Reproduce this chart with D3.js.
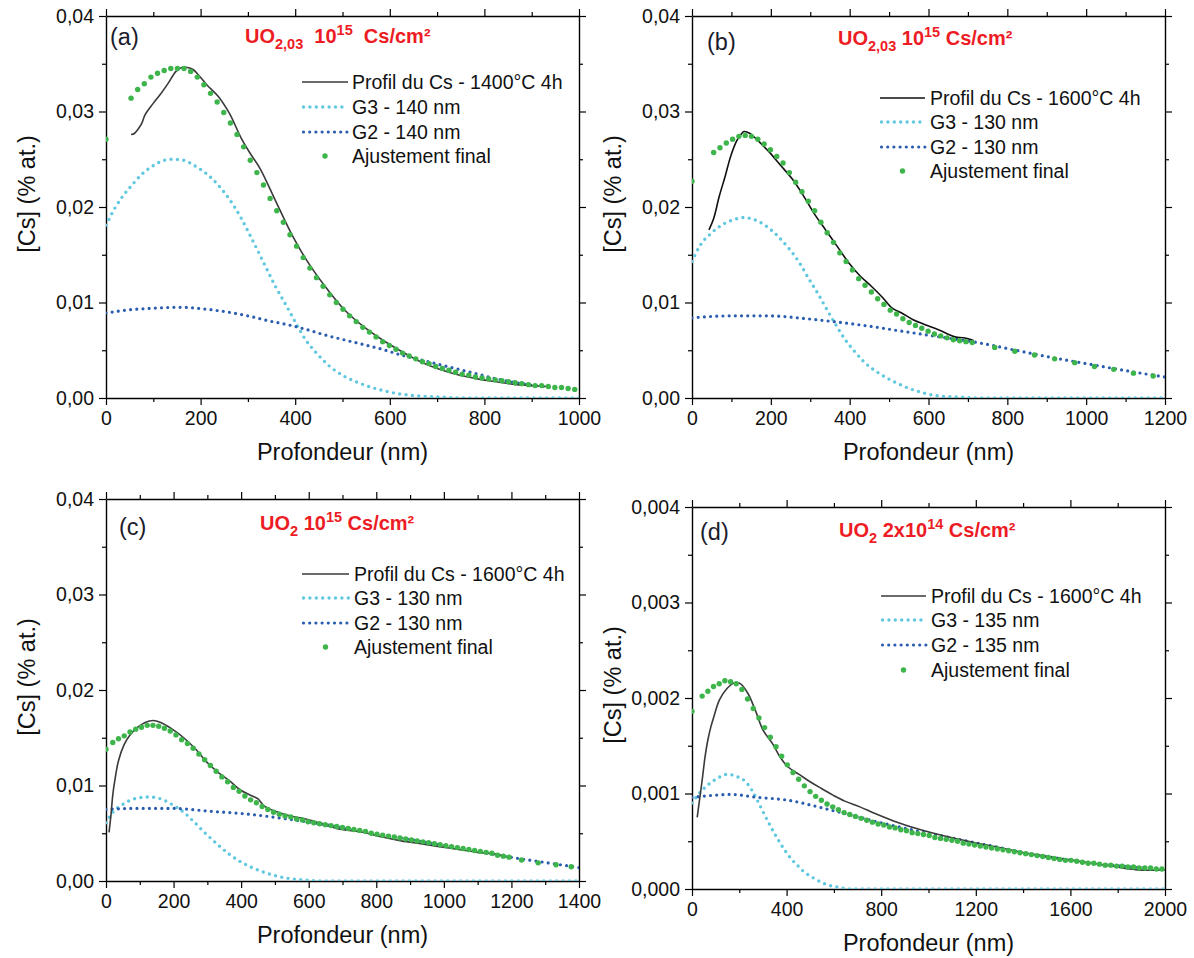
<!DOCTYPE html>
<html><head><meta charset="utf-8">
<script src="https://cdn.jsdelivr.net/npm/d3@7"></script>
<style>
body{margin:0;background:#fff}
svg{display:block}
text{font-family:"Liberation Sans",Arial,sans-serif}
</style>
</head><body>
<svg id="chart" width="1194" height="958"></svg>
<script>
// ===== DATA (depth in nm, [Cs] in % at.) =====
// Panel (a)
const a_profile = [[53,0.0276],[60,0.0277],[67,0.0281],[75,0.0287],[83,0.0297],[99,0.0308],[115,0.0318],[132,0.0330],[148,0.0342],[160,0.0346],[172,0.0346],[184,0.0344],[196,0.0338],[213,0.0328],[237,0.0316],[261,0.0298],[285,0.0273],[305,0.0256],[326,0.0240],[358,0.0207],[390,0.0174],[422,0.0146],[463,0.0117],[503,0.0093],[544,0.0075],[584,0.0061],[624,0.0049],[665,0.0038],[705,0.0030],[746,0.0024],[786,0.0020],[826,0.0017],[867,0.0014],[900,0.0013],[930,0.0012]];
const a_g3 = [[0,0.0181],[19,0.0199],[35,0.0211],[55,0.0223],[75,0.0234],[99,0.0243],[124,0.0249],[141,0.0250],[164,0.0249],[188,0.0243],[212,0.0235],[237,0.0223],[261,0.0208],[285,0.0189],[309,0.0166],[334,0.0141],[358,0.0117],[382,0.0096],[402,0.0078],[422,0.0061],[447,0.0046],[471,0.0034],[503,0.0023],[544,0.0014],[584,0.0008],[624,0.0004],[665,0.0002],[705,0.0001],[760,0],[1000,0]];
const a_g2 = [[0,0.0089],[43,0.0092],[99,0.0094],[156,0.0095],[212,0.0093],[269,0.0089],[309,0.0085],[342,0.0081],[382,0.0077],[422,0.0072],[463,0.0066],[503,0.0061],[544,0.0056],[584,0.0051],[624,0.0045],[665,0.0040],[705,0.0035],[746,0.0030],[786,0.0025],[826,0.0020],[867,0.0016],[907,0.0013],[948,0.0011],[1000,0.0009]];
const a_fit = [[0,0.0271],[53,0.0314],[67,0.0323],[81,0.0329],[95,0.0336],[109,0.0340],[123,0.0343],[137,0.0345],[151,0.0345],[165,0.0345],[179,0.0342],[193,0.0336],[207,0.0328],[221,0.0319],[235,0.0310],[249,0.0299],[263,0.0288],[277,0.0276],[291,0.0263],[305,0.0249],[319,0.0236],[333,0.0223],[347,0.0209],[361,0.0196],[375,0.0184],[389,0.0171],[403,0.0159],[417,0.0147],[431,0.0136],[445,0.0126],[459,0.0117],[473,0.0108],[487,0.0100],[501,0.0093],[515,0.0086],[529,0.0080],[543,0.0074],[557,0.0069],[571,0.0064],[585,0.0059],[599,0.0055],[613,0.0051],[627,0.0047],[641,0.0044],[655,0.0041],[669,0.0038],[683,0.0036],[697,0.0033],[711,0.0031],[725,0.0029],[739,0.0027],[753,0.0025],[767,0.0024],[781,0.0022],[795,0.0021],[809,0.0020],[823,0.0019],[837,0.0018],[851,0.0017],[865,0.0016],[879,0.0015],[893,0.0014],[907,0.0013],[921,0.0013],[935,0.0012],[949,0.0011],[963,0.0011],[977,0.0010],[991,0.0009]];

// Panel (b)
const b_profile = [[43,0.0176],[55,0.0188],[69,0.0211],[84,0.0232],[98,0.0253],[113,0.0269],[124,0.0276],[132,0.0279],[147,0.0277],[166,0.0270],[195,0.0258],[224,0.0244],[253,0.0230],[281,0.0213],[310,0.0193],[339,0.0176],[368,0.0159],[397,0.0142],[426,0.0128],[455,0.0117],[484,0.0105],[508,0.0094],[532,0.0089],[561,0.0082],[590,0.0077],[628,0.0071],[667,0.0064],[690,0.0063],[715,0.0060]];
const b_g3 = [[0,0.0143],[21,0.0160],[50,0.0173],[79,0.0182],[108,0.0187],[132,0.0189],[156,0.0187],[185,0.0181],[214,0.0171],[243,0.0158],[272,0.0142],[296,0.0125],[320,0.0109],[339,0.0095],[363,0.0078],[387,0.0062],[412,0.0049],[436,0.0038],[474,0.0026],[513,0.0017],[551,0.0010],[590,0.0005],[628,0.0002],[677,0.0001],[720,0],[1200,0]];
const b_g2 = [[0,0.0084],[98,0.0086],[195,0.0086],[291,0.0083],[359,0.0080],[436,0.0076],[532,0.0070],[628,0.0064],[725,0.0058],[821,0.0050],[918,0.0042],[1014,0.0035],[1110,0.0028],[1200,0.0022]];
const b_fit = [[0,0.0227],[55,0.0257],[71,0.0262],[87,0.0267],[103,0.0271],[119,0.0274],[135,0.0275],[151,0.0274],[167,0.0271],[183,0.0266],[199,0.0260],[215,0.0253],[231,0.0246],[247,0.0236],[263,0.0226],[279,0.0216],[295,0.0206],[311,0.0196],[327,0.0184],[343,0.0173],[359,0.0163],[375,0.0152],[391,0.0143],[407,0.0134],[423,0.0125],[439,0.0118],[455,0.0111],[471,0.0104],[487,0.0098],[503,0.0092],[519,0.0088],[535,0.0083],[551,0.0079],[567,0.0076],[583,0.0073],[599,0.0070],[615,0.0067],[631,0.0065],[647,0.0063],[663,0.0061],[679,0.0060],[695,0.0059],[711,0.0058],[768,0.0053],[819,0.0049],[869,0.0045],[920,0.0041],[971,0.0037],[1021,0.0033],[1070,0.0030],[1120,0.0026],[1170,0.0023]];

// Panel (c)
const c_profile = [[9,0.0051],[15,0.0070],[20,0.0090],[26,0.0105],[37,0.0126],[54,0.0143],[71,0.0153],[94,0.0161],[116,0.0166],[139,0.0168],[162,0.0166],[196,0.0159],[230,0.0150],[263,0.0139],[297,0.0125],[331,0.0114],[365,0.0105],[399,0.0095],[433,0.0089],[450,0.0086],[467,0.0079],[501,0.0073],[546,0.0068],[591,0.0065],[648,0.0059],[682,0.0055],[720,0.0053],[761,0.0051],[818,0.0046],[874,0.0042],[931,0.0039],[987,0.0036],[1044,0.0033],[1100,0.0030],[1157,0.0028],[1185,0.0025]];
const c_g3 = [[0,0.0061],[20,0.0072],[49,0.0080],[83,0.0086],[128,0.0088],[162,0.0086],[196,0.0080],[230,0.0072],[263,0.0061],[297,0.0049],[331,0.0038],[365,0.0028],[399,0.0020],[433,0.0014],[478,0.0008],[535,0.0003],[591,0.0001],[650,0],[1400,0]];
const c_g2 = [[0,0.0075],[83,0.0076],[196,0.0076],[309,0.0073],[422,0.0070],[535,0.0065],[648,0.0059],[761,0.0052],[874,0.0045],[987,0.0038],[1100,0.0031],[1213,0.0024],[1327,0.0018],[1400,0.0014]];
const c_fit = [[0,0.0138],[20,0.0145],[37,0.0149],[54,0.0152],[71,0.0156],[88,0.0159],[105,0.0161],[122,0.0163],[139,0.0163],[156,0.0162],[173,0.0160],[190,0.0157],[207,0.0153],[224,0.0148],[241,0.0144],[258,0.0139],[275,0.0133],[292,0.0127],[309,0.0121],[326,0.0115],[343,0.0109],[360,0.0104],[377,0.0098],[394,0.0094],[411,0.0089],[428,0.0085],[445,0.0082],[462,0.0078],[479,0.0075],[496,0.0072],[513,0.0070],[530,0.0068],[547,0.0067],[564,0.0065],[581,0.0064],[598,0.0062],[615,0.0061],[632,0.0060],[649,0.0059],[666,0.0058],[683,0.0057],[700,0.0056],[717,0.0055],[734,0.0054],[751,0.0053],[768,0.0052],[785,0.0050],[802,0.0049],[819,0.0048],[836,0.0047],[853,0.0046],[870,0.0045],[887,0.0044],[904,0.0043],[921,0.0042],[938,0.0041],[955,0.0040],[972,0.0039],[989,0.0038],[1006,0.0037],[1023,0.0036],[1040,0.0035],[1057,0.0034],[1074,0.0033],[1091,0.0032],[1108,0.0031],[1125,0.0030],[1142,0.0029],[1159,0.0027],[1176,0.0026],[1193,0.0025],[1230,0.0022],[1279,0.0019],[1332,0.0017],[1377,0.0015]];

// Panel (d)
const d_profile = [[22,0.00075],[30,0.00090],[43,0.00114],[55,0.00138],[67,0.00156],[80,0.00170],[92,0.00180],[116,0.00198],[148,0.00210],[180,0.00216],[204,0.00215],[236,0.00205],[268,0.00187],[301,0.00166],[341,0.00152],[373,0.00138],[405,0.00128],[453,0.00120],[501,0.00112],[549,0.00105],[598,0.00098],[646,0.00092],[710,0.00086],[774,0.00079],[855,0.00071],[967,0.00062],[1128,0.00052],[1288,0.00044],[1449,0.00036],[1610,0.00030],[1771,0.00024],[1884,0.00020],[2000,0.00020]];
const d_g3 = [[0,0.00090],[27,0.00099],[67,0.00109],[108,0.00116],[148,0.00120],[188,0.00118],[228,0.00112],[252,0.00104],[276,0.00093],[300,0.00081],[325,0.00069],[349,0.00058],[373,0.00048],[397,0.00039],[421,0.00031],[445,0.00025],[469,0.00019],[517,0.00011],[565,0.00005],[613,0.00002],[680,0],[2000,0]];
const d_g2 = [[0,0.00096],[84,0.00098],[164,0.00099],[276,0.00096],[405,0.00093],[533,0.00086],[646,0.00079],[806,0.00069],[967,0.00060],[1128,0.00052],[1288,0.00044],[1449,0.00036],[1610,0.00030],[1771,0.00025],[2000,0.00021]];
const d_fit = [[0,0.00186],[43,0.00202],[67,0.00207],[91,0.00212],[115,0.00215],[139,0.00218],[163,0.00217],[187,0.00215],[211,0.00209],[235,0.00199],[259,0.00189],[283,0.00179],[307,0.00169],[331,0.00159],[355,0.00149],[379,0.00139],[403,0.00130],[427,0.00122],[451,0.00115],[475,0.00108],[499,0.00102],[523,0.00097],[547,0.00093],[571,0.00089],[595,0.00086],[619,0.00083],[643,0.00080],[667,0.00078],[691,0.00076],[715,0.00074],[739,0.00072],[763,0.00070],[787,0.00068],[811,0.00067],[835,0.00065],[859,0.00064],[883,0.00062],[907,0.00061],[931,0.00059],[955,0.00058],[979,0.00057],[1003,0.00056],[1027,0.00054],[1051,0.00053],[1075,0.00052],[1099,0.00051],[1123,0.00050],[1147,0.00048],[1171,0.00047],[1195,0.00046],[1219,0.00045],[1243,0.00044],[1267,0.00043],[1291,0.00042],[1315,0.00041],[1339,0.00040],[1363,0.00039],[1387,0.00038],[1411,0.00037],[1435,0.00036],[1459,0.00035],[1483,0.00034],[1507,0.00033],[1531,0.00032],[1555,0.00031],[1579,0.00030],[1603,0.00030],[1627,0.00029],[1651,0.00028],[1675,0.00027],[1699,0.00027],[1723,0.00026],[1747,0.00025],[1771,0.00025],[1795,0.00024],[1819,0.00024],[1843,0.00023],[1867,0.00023],[1891,0.00022],[1915,0.00022],[1939,0.00022],[1963,0.00021],[1987,0.00021]];

// Ticks / labels
const a_xTicks = [0,200,400,600,800,1000];
const b_xTicks = [0,200,400,600,800,1000,1200];
const c_xTicks = [0,200,400,600,800,1000,1200,1400];
const d_xTicks = [0,400,800,1200,1600,2000];
const yTicks_pct = [0,0.01,0.02,0.03,0.04];
const yTicks_d = [0,0.001,0.002,0.003,0.004];

const a_legend = ["Profil du Cs - 1400°C 4h","G3 - 140 nm","G2 - 140 nm","Ajustement final"];
const b_legend = ["Profil du Cs - 1600°C 4h","G3 - 130 nm","G2 - 130 nm","Ajustement final"];
const c_legend = ["Profil du Cs - 1600°C 4h","G3 - 130 nm","G2 - 130 nm","Ajustement final"];
const d_legend = ["Profil du Cs - 1600°C 4h","G3 - 135 nm","G2 - 135 nm","Ajustement final"];

const a_title = [["UO",""],["2,03","sub"],["  10",""],["15","sup"],["  Cs/cm²",""]];
const b_title = [["UO",""],["2,03","sub"],[" 10",""],["15","sup"],[" Cs/cm²",""]];
const c_title = [["UO",""],["2","sub"],[" 10",""],["15","sup"],[" Cs/cm²",""]];
const d_title = [["UO",""],["2","sub"],[" 2x10",""],["14","sup"],[" Cs/cm²",""]];

// ===== STYLE / LAYOUT =====
const COL_G3 = "#5fc8df", COL_G2 = "#2a5caf", COL_FIT = "#3db54a", COL_TITLE = "#ed1c24";

const panels = [
  {tag:"(a)", L:106,R:579,T:16,B:398, xMax:1000, xTicks:a_xTicks, xMinorStep:100, yMax:0.04, yTicks:yTicks_pct, yMinorStep:0.005, yDec:2,
   profile:a_profile, g3:a_g3, g2:a_g2, fit:a_fit, legend:a_legend, title:a_title, profCol:"#3a3a3a",
   lg:{x0:302,x1:348,tx:352,rows:[82,107,132,156]}, tt:{x:245,y:43}, lb:{x:110,y:45}},
  {tag:"(b)", L:692,R:1165,T:16,B:398, xMax:1200, xTicks:b_xTicks, xMinorStep:100, yMax:0.04, yTicks:yTicks_pct, yMinorStep:0.005, yDec:2,
   profile:b_profile, g3:b_g3, g2:b_g2, fit:b_fit, legend:b_legend, title:b_title, profCol:"#111111",
   lg:{x0:880,x1:925,tx:930,rows:[98,122,147,171]}, tt:{x:838,y:45}, lb:{x:707,y:50}},
  {tag:"(c)", L:106,R:579,T:499,B:881, xMax:1400, xTicks:c_xTicks, xMinorStep:100, yMax:0.04, yTicks:yTicks_pct, yMinorStep:0.005, yDec:2,
   profile:c_profile, g3:c_g3, g2:c_g2, fit:c_fit, legend:c_legend, title:c_title, profCol:"#3a3a3a",
   lg:{x0:302,x1:349,tx:354,rows:[574,598,623,647]}, tt:{x:260,y:530}, lb:{x:119,y:535}},
  {tag:"(d)", L:692,R:1165,T:507,B:889, xMax:2000, xTicks:d_xTicks, xMinorStep:200, yMax:0.004, yTicks:yTicks_d, yMinorStep:0.0005, yDec:3,
   profile:d_profile, g3:d_g3, g2:d_g2, fit:d_fit, legend:d_legend, title:d_title, profCol:"#3a3a3a",
   lg:{x0:881,x1:926,tx:931,rows:[596,620,645,670]}, tt:{x:839,y:537}, lb:{x:700,y:540}}
];

const svg = d3.select("#chart");
const FONT = '"Liberation Sans", Arial, sans-serif';

panels.forEach((p, i) => {
  const x = d3.scaleLinear().domain([0, p.xMax]).range([p.L, p.R]);
  const y = d3.scaleLinear().domain([0, p.yMax]).range([p.B, p.T]);
  const g = svg.append("g");
  const clipId = "clip" + i;
  svg.append("defs").append("clipPath").attr("id", clipId)
    .append("rect").attr("x", p.L).attr("y", p.T).attr("width", p.R - p.L).attr("height", p.B - p.T);

  const fmt = v => d3.format("." + p.yDec + "f")(v).replace(".", ",");
  const xMinor = d3.range(0, p.xMax + 1e-9, p.xMinorStep).filter(v => !p.xTicks.includes(v));
  const yMinor = d3.range(0, p.yMax + 1e-12, p.yMinorStep).filter(v => !p.yTicks.some(t => Math.abs(t - v) < 1e-9));

  function styleAxis(sel, fs) {
    sel.selectAll("path.domain").attr("stroke", "#000").attr("stroke-width", 1.4);
    sel.selectAll(".tick line").attr("stroke", "#000").attr("stroke-width", 1.2);
    sel.selectAll("text").attr("font-family", FONT).attr("font-size", fs).attr("fill", "#111");
  }
  const TF = 19.5;
  const gx = g.append("g").attr("transform", `translate(0,${p.B})`)
    .call(d3.axisBottom(x).tickValues(p.xTicks).tickSize(7).tickSizeOuter(0).tickPadding(6).tickFormat(d3.format("d")));
  styleAxis(gx, TF);
  const gxt = g.append("g").attr("transform", `translate(0,${p.T})`)
    .call(d3.axisTop(x).tickValues(p.xTicks).tickSize(7).tickSizeOuter(0).tickFormat(""));
  styleAxis(gxt, TF);
  const gy = g.append("g").attr("transform", `translate(${p.L},0)`)
    .call(d3.axisLeft(y).tickValues(p.yTicks).tickSize(7).tickSizeOuter(0).tickPadding(5).tickFormat(fmt));
  styleAxis(gy, TF);
  const gyr = g.append("g").attr("transform", `translate(${p.R},0)`)
    .call(d3.axisRight(y).tickValues(p.yTicks).tickSize(7).tickSizeOuter(0).tickFormat(""));
  styleAxis(gyr, TF);
  // minor ticks
  [[d3.axisBottom(x), p.B], [d3.axisTop(x), p.T]].forEach(([ax, pos]) => {
    const s = g.append("g").attr("transform", `translate(0,${pos})`)
      .call(ax.tickValues(xMinor).tickSize(4).tickSizeOuter(0).tickFormat(""));
    s.select("path.domain").remove();
    styleAxis(s, TF);
  });
  [[d3.axisLeft(y), p.L], [d3.axisRight(y), p.R]].forEach(([ax, pos]) => {
    const s = g.append("g").attr("transform", `translate(${pos},0)`)
      .call(ax.tickValues(yMinor).tickSize(4).tickSizeOuter(0).tickFormat(""));
    s.select("path.domain").remove();
    styleAxis(s, TF);
  });

  // axis titles
  g.append("text").attr("x", (p.L + p.R) / 2).attr("y", p.B + 62)
    .attr("text-anchor", "middle").attr("font-size", 23.5).attr("fill", "#111").text("Profondeur (nm)");
  g.append("text").attr("transform", `translate(${p.L - 71},${(p.T + p.B) / 2 - 13}) rotate(-90)`)
    .attr("text-anchor", "middle").attr("font-size", 23.5).attr("fill", "#111").text("[Cs] (% at.)");

  // data
  const plot = g.append("g").attr("clip-path", `url(#${clipId})`);
  const smooth = d3.line().x(d => x(d[0])).y(d => y(d[1])).curve(d3.curveMonotoneX);
  const lin = d3.line().x(d => x(d[0])).y(d => y(d[1])).curve(d3.curveCatmullRom.alpha(0.5));

  plot.append("path").datum(p.g3).attr("d", smooth).attr("fill", "none")
    .attr("stroke", COL_G3).attr("stroke-width", 3.4).attr("stroke-dasharray", "0 6.4").attr("stroke-linecap", "round");
  plot.append("path").datum(p.g2).attr("d", smooth).attr("fill", "none")
    .attr("stroke", COL_G2).attr("stroke-width", 3.2).attr("stroke-dasharray", "0 6.2").attr("stroke-linecap", "round");
  plot.append("path").datum(p.profile).attr("d", lin).attr("fill", "none")
    .attr("stroke", p.profCol).attr("stroke-width", 1.6);
  plot.selectAll("circle.fit").data(p.fit).join("circle").attr("class", "fit")
    .attr("cx", d => x(d[0])).attr("cy", d => y(d[1])).attr("r", 2.7).attr("fill", COL_FIT);

  // legend
  const lg = p.lg;
  g.append("line").attr("x1", lg.x0).attr("x2", lg.x1).attr("y1", lg.rows[0]).attr("y2", lg.rows[0])
    .attr("stroke", p.profCol).attr("stroke-width", 1.6);
  g.append("line").attr("x1", lg.x0 + 1.5).attr("x2", lg.x1).attr("y1", lg.rows[1]).attr("y2", lg.rows[1])
    .attr("stroke", COL_G3).attr("stroke-width", 3.4).attr("stroke-dasharray", "0 6.4").attr("stroke-linecap", "round");
  g.append("line").attr("x1", lg.x0 + 1.5).attr("x2", lg.x1).attr("y1", lg.rows[2]).attr("y2", lg.rows[2])
    .attr("stroke", COL_G2).attr("stroke-width", 3.2).attr("stroke-dasharray", "0 6.2").attr("stroke-linecap", "round");
  g.append("circle").attr("cx", (lg.x0 + lg.x1) / 2).attr("cy", lg.rows[3]).attr("r", 2.7).attr("fill", COL_FIT);
  p.legend.forEach((t, k) => {
    g.append("text").attr("x", lg.tx).attr("y", lg.rows[k] + 7).attr("font-size", 19.5).attr("fill", "#111").text(t);
  });

  // panel tag
  g.append("text").attr("x", p.lb.x).attr("y", p.lb.y).attr("font-size", 23.5).attr("fill", "#1b1b2b").text(p.tag);

  // title
  const tt = g.append("text").attr("x", p.tt.x).attr("y", p.tt.y).attr("font-size", 20)
    .attr("font-weight", "bold").attr("fill", COL_TITLE).attr("xml:space", "preserve").style("white-space", "pre");
  let shift = 0;
  p.title.forEach(([t, kind]) => {
    const ts = tt.append("tspan").text(t);
    let target = kind === "sub" ? 6 : kind === "sup" ? -8 : 0;
    ts.attr("dy", target - shift);
    shift = target;
    if (kind) ts.attr("font-size", 14.5);
  });
});
</script>
</body></html>
